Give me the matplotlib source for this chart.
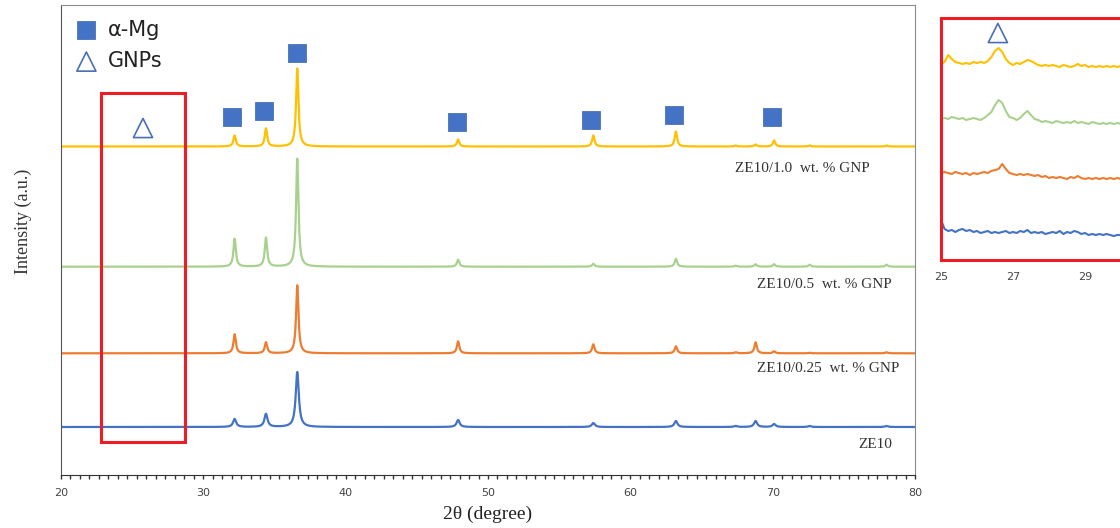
import numpy as np
import matplotlib
matplotlib.use("Agg")
import matplotlib.pyplot as plt
from matplotlib.ticker import MultipleLocator
from matplotlib.patches import Rectangle

# --- data ---
samples = ["ZE10/1.0  wt. % GNP", "ZE10/0.5  wt. % GNP", "ZE10/0.25  wt. % GNP", "ZE10"]
colors = ["#FFC000", "#A9D18E", "#ED7D31", "#4472C4"]
baselines = [328.5, 208.3, 121.7, 48.0]
peak_pos = [32.2, 34.4, 36.6, 47.9, 57.4, 63.2, 67.4, 68.8, 70.1, 72.6, 78.0]
peak_h_10 = [11, 18, 78, 7, 11, 15, 1, 2, 6, 1, 1]
peak_h_05 = [28, 29, 108, 7, 3, 8, 1, 2.5, 2.5, 2, 2]
peak_h_025 = [19, 11, 68, 12, 9, 7, 1, 11, 2, 0.5, 1]
peak_h_0 = [8, 13, 55, 7, 4, 6, 1, 6, 3, 1, 1]
peak_heights = [peak_h_10, peak_h_05, peak_h_025, peak_h_0]
peak_width = [0.10, 0.10, 0.10, 0.13]

mg_x = [32.0, 34.27, 36.58, 47.83, 57.25, 63.08, 69.97]
mg_y = [358, 364, 422, 353, 355, 360, 358]
gnp_x = [25.76]
gnp_y = [347]

# inset (zoom of 25-30 deg)
inset_x = np.round(np.arange(25.0, 30.01, 0.1), 1)
inset_10 = [196, 198, 205, 201, 198, 197, 196, 197, 196, 198, 197, 198, 197, 199, 203, 209, 212,
            208, 201, 197, 195, 197, 196, 198, 200, 199, 197, 195, 194, 195, 194, 195, 194, 193,
            195, 194, 193, 194, 196, 194, 195, 193, 194, 193, 194, 193, 194, 193, 194, 193, 194]
inset_05 = [141, 142, 141, 143, 142, 141, 142, 140, 141, 142, 141, 140, 142, 145, 148, 155, 160,
            157, 149, 143, 142, 140, 142, 146, 149, 145, 141, 140, 138, 139, 138, 137, 139, 138,
            137, 138, 137, 139, 137, 138, 137, 136, 138, 137, 136, 137, 136, 137, 136, 137, 136]
inset_025 = [87, 88, 87, 86, 88, 87, 86, 87, 85, 87, 86, 87, 88, 87, 89, 90, 91, 96, 91, 87, 86,
             85, 86, 85, 86, 85, 84, 85, 83, 84, 82, 83, 82, 83, 82, 81, 83, 82, 84, 82, 81, 82,
             81, 82, 81, 82, 81, 82, 81, 82, 81]
inset_0 = [40, 31, 29, 30, 28, 30, 31, 29, 30, 28, 29, 27, 28, 29, 27, 28, 27, 28, 29, 27, 28, 27,
           29, 28, 30, 27, 28, 27, 28, 26, 27, 28, 27, 29, 26, 28, 27, 29, 28, 26, 27, 25, 26, 25,
           26, 25, 26, 25, 24, 25, 25]
inset_series = [inset_10, inset_05, inset_025, inset_0]
inset_gnp_x = [26.58]
inset_gnp_y = [227]


def pattern(x, pos, heights, w):
    y = np.zeros_like(x)
    for p, h in zip(pos, heights):
        y += h * w ** 2 / ((x - p) ** 2 + w ** 2)
    return y


def showxrd():
    plt.rcParams['font.family'] = ['DejaVu Sans']
    fig = plt.figure(figsize=(11.2, 5.28), dpi=100)
    ax = fig.add_axes([61 / 1120, 53 / 528, 854 / 1120, 470 / 528])

    x = np.arange(20, 80.001, 0.01)
    for i in range(4):
        y = baselines[i] + pattern(x, peak_pos, peak_heights[i], peak_width[i])
        ax.plot(x, y, color=colors[i], lw=1.6)

    lab_x = [67.37, 68.91, 68.91, 76.0]
    lab_y = [307, 191, 106, 30]
    for i in range(4):
        ax.text(lab_x[i], lab_y[i], samples[i], family='Liberation Serif', fontsize=11,
                color='#333333', va='center', ha='left')

    ax.scatter(mg_x, mg_y, marker='s', s=150, color='#4472C4', edgecolors='#3A62AA',
               linewidths=0.5, zorder=5, label='α-Mg')
    ax.scatter(gnp_x, gnp_y, marker='^', s=190, facecolors='none', edgecolors='#4A6FB5',
               linewidths=1.2, zorder=5, label='GNPs')
    leg = ax.legend(loc='upper left', frameon=False, fontsize=15, handletextpad=0.45,
                    borderaxespad=0.3, labelspacing=0.55, bbox_to_anchor=(-0.002, 1.0),
                    handlelength=1.2)
    for t in leg.get_texts():
        t.set_color('#222222')

    ax.add_patch(Rectangle((22.81, 33), 5.9, 349, fill=False, ec='#EE1C25', lw=2.2, zorder=6))

    ax.set_xlim(20, 80)
    ax.set_ylim(0, 470)
    ax.set_yticks([])
    ax.xaxis.set_major_locator(MultipleLocator(10))
    ax.xaxis.set_minor_locator(MultipleLocator(2 / 3))
    ax.tick_params(axis='x', which='both', length=3, width=1, color='#333333',
                   labelsize=8, labelcolor='#444444', pad=6)
    for s in ['left', 'top', 'right']:
        ax.spines[s].set_color('#8c8c8c')
    ax.spines['bottom'].set_color('#333333')
    ax.spines['left'].set_color('#555555')
    ax.set_xlabel('2θ (degree)', family='Liberation Serif', fontsize=14, color='#222222',
                  labelpad=6)
    ax.set_ylabel('Intensity (a.u.)', family='Liberation Serif', fontsize=13, color='#333333')
    ax.yaxis.set_label_coords(-0.034, 0.54)

    # inset on the right, cut by the figure edge
    axi = fig.add_axes([941 / 1120, 268 / 528, 252 / 1120, 242 / 528])
    for i in range(4):
        axi.plot(inset_x, inset_series[i], color=colors[i], lw=1.5)
    axi.scatter(inset_gnp_x, inset_gnp_y, marker='^', s=190, facecolors='none',
                edgecolors='#4A6FB5', linewidths=1.2, zorder=5)
    axi.set_xlim(25, 32)
    axi.set_ylim(0, 242)
    axi.set_yticks([])
    axi.set_xticks([25, 27, 29])
    axi.tick_params(axis='x', length=0, labelsize=8, labelcolor='#444444', pad=9)
    for s in axi.spines.values():
        s.set_color('#EE1C25')
        s.set_linewidth(2.2)

    fig.savefig('out.png', dpi=100)


def main():
    showxrd()


if __name__ == '__main__':
    main()
